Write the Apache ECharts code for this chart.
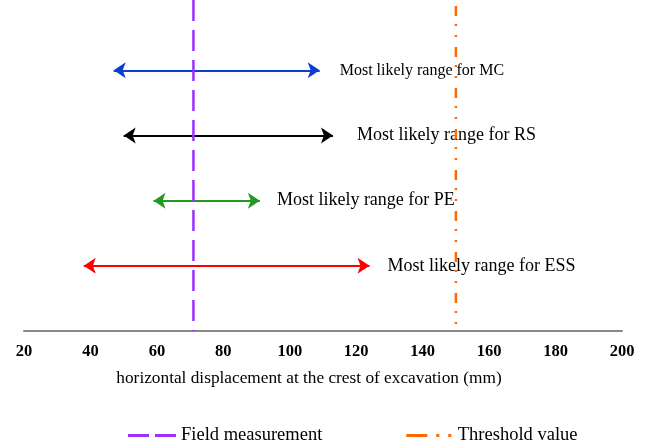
<!DOCTYPE html>
<html>
<head>
<meta charset="utf-8">
<script src="https://cdn.jsdelivr.net/npm/echarts@6/dist/echarts.min.js"></script>
<style>
  html, body { margin: 0; padding: 0; background: #fff; }
  #chart { width: 648px; height: 446px; }
</style>
</head>
<body>
<div id="chart"></div>
<script>
// Most likely displacement ranges (mm) for each method, top to bottom
const methods   = ['MC', 'RS', 'PE', 'ESS'];
const rangeLow  = [47, 50, 59, 38];
const rangeHigh = [109, 113, 91, 124];
const rowLevel  = [4, 3, 2, 1];
const rangeColors = ['#0a3fd0', '#000000', '#229a22', '#ff0000'];
const labelSizes  = [16, 18, 18, 18];
const labelGaps   = [20, 24, 17, 18];

// Reference lines (mm)
const fieldMeasurement = 71;
const thresholdValue = 150;

// x axis ticks
const xMin = 20, xMax = 200, xStep = 20;
const yTop = 5.08;

const serif = '"Liberation Serif", "DejaVu Serif", serif';
const arrowSize = 12;

const chart = echarts.init(document.getElementById('chart'));

const rangeData = methods.map((m, i) => ({
  name: 'Most likely range for ' + m,
  coords: [[rangeLow[i], rowLevel[i]], [rangeHigh[i], rowLevel[i]]],
  lineStyle: { color: rangeColors[i], width: 2, opacity: 1 },
  label: { fontSize: labelSizes[i], distance: labelGaps[i] }
}));

chart.setOption({
  animation: false,
  grid: { left: 24, right: 26, top: 0, bottom: 115 },
  xAxis: {
    type: 'value',
    min: xMin, max: xMax, interval: xStep,
    name: 'horizontal displacement at the crest of excavation (mm)',
    nameLocation: 'middle',
    nameGap: 39,
    nameTextStyle: { fontFamily: serif, fontSize: 17.3, color: '#000', padding: [0, 28, 0, 0] },
    axisLine: { lineStyle: { color: '#888', width: 2 } },
    axisTick: { show: false },
    splitLine: { show: false },
    axisLabel: { fontFamily: serif, fontSize: 16.5, fontWeight: 'bold', color: '#000', margin: 12 }
  },
  yAxis: { type: 'value', min: 0, max: yTop, show: false },
  legend: {
    left: 123, top: 421,
    itemGap: 84,
    itemWidth: 48, itemHeight: 3,
    textStyle: { fontFamily: serif, fontSize: 18.5, color: '#000' },
    data: [
      { name: 'Field measurement', icon: 'path://M0,0h21v3h-21z M27,0h21v3h-21z', itemStyle: { color: '#9b30ff' } },
      { name: 'Threshold value', icon: 'path://M0,0h21v3h-21z M30,0h3v3h-3z M42,0h3v3h-3z', itemStyle: { color: '#ff6a00' } }
    ]
  },
  series: [
    {
      name: 'Field measurement',
      type: 'line',
      symbol: 'none',
      z: 3,
      color: '#9b30ff',
      lineStyle: { color: '#9b30ff', width: 2.5, type: [21, 9] },
      data: [[fieldMeasurement, yTop], [fieldMeasurement, 0]]
    },
    {
      name: 'Threshold value',
      type: 'line',
      symbol: 'none',
      z: 3,
      color: '#ff6a00',
      lineStyle: { color: '#ff6a00', width: 2.5, type: [10, 8, 2, 9, 2, 10], dashOffset: -6 },
      data: [[thresholdValue, yTop], [thresholdValue, 0]]
    },
    {
      type: 'lines',
      coordinateSystem: 'cartesian2d',
      z: 2,
      symbol: ['arrow', 'arrow'],
      symbolSize: arrowSize,
      symbolOffset: [0, arrowSize / 2],
      lineStyle: { opacity: 1 },
      label: {
        show: true,
        position: 'end',
        formatter: '{b}',
        fontFamily: serif,
        color: '#000',
        opacity: 1
      },
      data: rangeData
    }
  ]
});
</script>
</body>
</html>
